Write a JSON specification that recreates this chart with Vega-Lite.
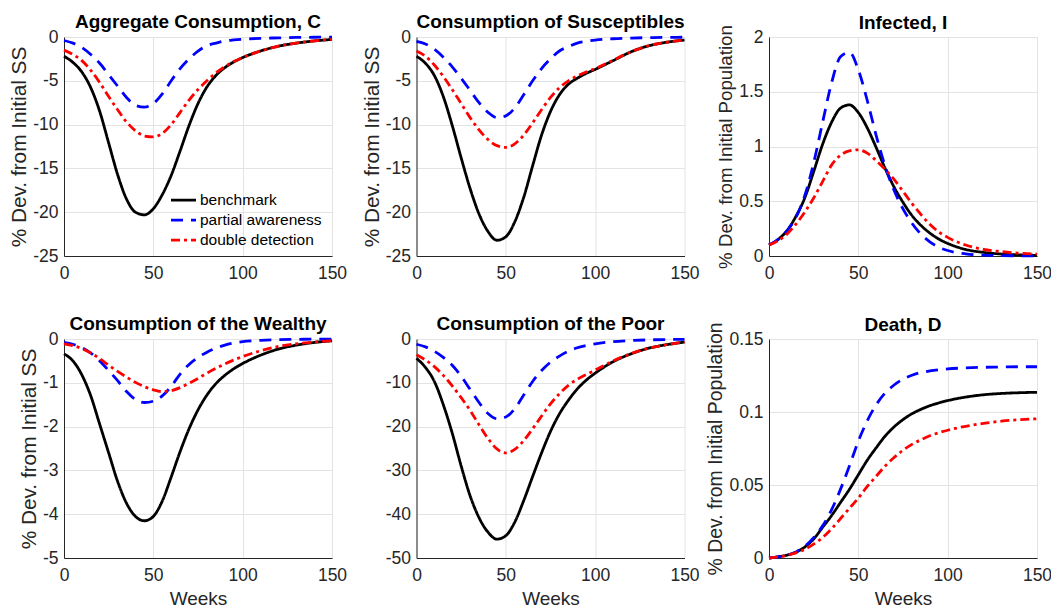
{
  "$schema": "https://vega.github.io/schema/vega-lite/v6.json",
  "padding": {"left": 8, "top": 13, "right": 0, "bottom": 0},
  "background": "white",
  "config": {
    "font": "Liberation Sans",
    "view": {"stroke": null},
    "axis": {
      "domainColor": "#262626", "domainWidth": 1,
      "labelColor": "#262626", "labelFontSize": 17.5, "labelFont": "Liberation Sans",
      "titleColor": "#262626", "titleFontWeight": "normal", "titleFont": "Liberation Sans",
      "gridColor": "#e3e3e3", "gridWidth": 1, "ticks": false
    },
    "axisX": {"labelPadding": 8, "titleFontSize": 19, "titlePadding": 6, "labelFlush": false},
    "axisY": {"labelPadding": 6, "titlePadding": 3, "titleFontSize": 20.8},
    "title": {"fontSize": 19, "fontWeight": "bold", "color": "#000000", "offset": -4, "font": "Liberation Sans"},
    "line": {"strokeWidth": 2.8, "interpolate": "monotone"}
  },
  "datasets": {
    "C": [
      {"w":0,"benchmark":-2.2,"partial awareness":-0.4,"double detection":-1.5},
      {"w":5,"benchmark":-2.9,"partial awareness":-0.7,"double detection":-2.0},
      {"w":10,"benchmark":-4.0,"partial awareness":-1.2,"double detection":-2.7},
      {"w":15,"benchmark":-5.8,"partial awareness":-2.0,"double detection":-3.8},
      {"w":20,"benchmark":-8.5,"partial awareness":-3.0,"double detection":-5.2},
      {"w":25,"benchmark":-12.1,"partial awareness":-4.3,"double detection":-6.8},
      {"w":30,"benchmark":-15.7,"partial awareness":-5.6,"double detection":-8.3},
      {"w":35,"benchmark":-18.5,"partial awareness":-6.9,"double detection":-9.7},
      {"w":40,"benchmark":-20.0,"partial awareness":-7.8,"double detection":-10.7},
      {"w":45,"benchmark":-20.3,"partial awareness":-8.0,"double detection":-11.3},
      {"w":50,"benchmark":-19.6,"partial awareness":-7.6,"double detection":-11.4},
      {"w":55,"benchmark":-18.0,"partial awareness":-6.5,"double detection":-11.0},
      {"w":60,"benchmark":-15.8,"partial awareness":-5.0,"double detection":-10.0},
      {"w":65,"benchmark":-13.0,"partial awareness":-3.6,"double detection":-8.6},
      {"w":70,"benchmark":-10.1,"partial awareness":-2.5,"double detection":-7.2},
      {"w":75,"benchmark":-7.6,"partial awareness":-1.6,"double detection":-6.0},
      {"w":80,"benchmark":-5.7,"partial awareness":-1.0,"double detection":-5.0},
      {"w":85,"benchmark":-4.4,"partial awareness":-0.7,"double detection":-4.1},
      {"w":90,"benchmark":-3.5,"partial awareness":-0.45,"double detection":-3.4},
      {"w":95,"benchmark":-2.85,"partial awareness":-0.33,"double detection":-2.8},
      {"w":100,"benchmark":-2.35,"partial awareness":-0.25,"double detection":-2.35},
      {"w":110,"benchmark":-1.6,"partial awareness":-0.15,"double detection":-1.6},
      {"w":120,"benchmark":-1.05,"partial awareness":-0.1,"double detection":-1.05},
      {"w":130,"benchmark":-0.7,"partial awareness":-0.05,"double detection":-0.7},
      {"w":140,"benchmark":-0.45,"partial awareness":-0.03,"double detection":-0.45},
      {"w":150,"benchmark":-0.28,"partial awareness":-0.02,"double detection":-0.28}
    ],
    "S": [
      {"w":0,"benchmark":-2.2,"partial awareness":-0.5,"double detection":-1.6},
      {"w":5,"benchmark":-3.0,"partial awareness":-0.8,"double detection":-2.2},
      {"w":10,"benchmark":-4.4,"partial awareness":-1.4,"double detection":-3.2},
      {"w":15,"benchmark":-6.8,"partial awareness":-2.3,"double detection":-4.5},
      {"w":20,"benchmark":-10.1,"partial awareness":-3.4,"double detection":-6.0},
      {"w":25,"benchmark":-13.8,"partial awareness":-4.7,"double detection":-7.6},
      {"w":30,"benchmark":-17.3,"partial awareness":-6.1,"double detection":-9.2},
      {"w":35,"benchmark":-20.2,"partial awareness":-7.5,"double detection":-10.6},
      {"w":40,"benchmark":-22.2,"partial awareness":-8.6,"double detection":-11.7},
      {"w":45,"benchmark":-23.2,"partial awareness":-9.2,"double detection":-12.4},
      {"w":50,"benchmark":-22.8,"partial awareness":-9.0,"double detection":-12.6},
      {"w":55,"benchmark":-21.1,"partial awareness":-8.1,"double detection":-12.2},
      {"w":60,"benchmark":-18.3,"partial awareness":-6.6,"double detection":-11.2},
      {"w":65,"benchmark":-14.7,"partial awareness":-5.0,"double detection":-9.8},
      {"w":70,"benchmark":-11.2,"partial awareness":-3.6,"double detection":-8.3},
      {"w":75,"benchmark":-8.5,"partial awareness":-2.5,"double detection":-6.9},
      {"w":80,"benchmark":-6.6,"partial awareness":-1.6,"double detection":-5.8},
      {"w":85,"benchmark":-5.4,"partial awareness":-1.1,"double detection":-5.0},
      {"w":90,"benchmark":-4.7,"partial awareness":-0.7,"double detection":-4.45},
      {"w":95,"benchmark":-4.15,"partial awareness":-0.5,"double detection":-4.0},
      {"w":100,"benchmark":-3.7,"partial awareness":-0.35,"double detection":-3.6},
      {"w":110,"benchmark":-2.7,"partial awareness":-0.2,"double detection":-2.65},
      {"w":120,"benchmark":-1.7,"partial awareness":-0.12,"double detection":-1.7},
      {"w":130,"benchmark":-1.0,"partial awareness":-0.07,"double detection":-1.0},
      {"w":140,"benchmark":-0.6,"partial awareness":-0.04,"double detection":-0.6},
      {"w":150,"benchmark":-0.35,"partial awareness":-0.03,"double detection":-0.35}
    ],
    "I": [
      {"w":0,"benchmark":0.10,"partial awareness":0.10,"double detection":0.10},
      {"w":5,"benchmark":0.15,"partial awareness":0.15,"double detection":0.14},
      {"w":10,"benchmark":0.23,"partial awareness":0.23,"double detection":0.20},
      {"w":15,"benchmark":0.36,"partial awareness":0.35,"double detection":0.29},
      {"w":20,"benchmark":0.53,"partial awareness":0.55,"double detection":0.40},
      {"w":25,"benchmark":0.77,"partial awareness":0.85,"double detection":0.53},
      {"w":30,"benchmark":1.02,"partial awareness":1.22,"double detection":0.68},
      {"w":35,"benchmark":1.22,"partial awareness":1.58,"double detection":0.83},
      {"w":40,"benchmark":1.35,"partial awareness":1.82,"double detection":0.92},
      {"w":45,"benchmark":1.38,"partial awareness":1.86,"double detection":0.96},
      {"w":50,"benchmark":1.31,"partial awareness":1.70,"double detection":0.97},
      {"w":55,"benchmark":1.17,"partial awareness":1.42,"double detection":0.94},
      {"w":60,"benchmark":0.99,"partial awareness":1.10,"double detection":0.87},
      {"w":65,"benchmark":0.80,"partial awareness":0.82,"double detection":0.79},
      {"w":70,"benchmark":0.63,"partial awareness":0.60,"double detection":0.70},
      {"w":75,"benchmark":0.49,"partial awareness":0.43,"double detection":0.59},
      {"w":80,"benchmark":0.37,"partial awareness":0.30,"double detection":0.48},
      {"w":85,"benchmark":0.28,"partial awareness":0.20,"double detection":0.38},
      {"w":90,"benchmark":0.21,"partial awareness":0.13,"double detection":0.29},
      {"w":95,"benchmark":0.155,"partial awareness":0.08,"double detection":0.22},
      {"w":100,"benchmark":0.115,"partial awareness":0.05,"double detection":0.17},
      {"w":110,"benchmark":0.06,"partial awareness":0.02,"double detection":0.10},
      {"w":120,"benchmark":0.033,"partial awareness":0.008,"double detection":0.06},
      {"w":130,"benchmark":0.018,"partial awareness":0.004,"double detection":0.04},
      {"w":140,"benchmark":0.01,"partial awareness":0.002,"double detection":0.025},
      {"w":150,"benchmark":0.006,"partial awareness":0.001,"double detection":0.018}
    ],
    "W": [
      {"w":0,"benchmark":-0.34,"partial awareness":-0.08,"double detection":-0.11},
      {"w":5,"benchmark":-0.5,"partial awareness":-0.12,"double detection":-0.15},
      {"w":10,"benchmark":-0.82,"partial awareness":-0.2,"double detection":-0.22},
      {"w":15,"benchmark":-1.3,"partial awareness":-0.32,"double detection":-0.32},
      {"w":20,"benchmark":-1.95,"partial awareness":-0.5,"double detection":-0.45},
      {"w":25,"benchmark":-2.6,"partial awareness":-0.72,"double detection":-0.6},
      {"w":30,"benchmark":-3.25,"partial awareness":-0.95,"double detection":-0.74},
      {"w":35,"benchmark":-3.75,"partial awareness":-1.2,"double detection":-0.87},
      {"w":40,"benchmark":-4.05,"partial awareness":-1.38,"double detection":-0.99},
      {"w":45,"benchmark":-4.15,"partial awareness":-1.45,"double detection":-1.09},
      {"w":50,"benchmark":-4.05,"partial awareness":-1.42,"double detection":-1.16},
      {"w":55,"benchmark":-3.7,"partial awareness":-1.3,"double detection":-1.2},
      {"w":60,"benchmark":-3.15,"partial awareness":-1.08,"double detection":-1.18},
      {"w":65,"benchmark":-2.57,"partial awareness":-0.8,"double detection":-1.11},
      {"w":70,"benchmark":-2.05,"partial awareness":-0.58,"double detection":-1.01},
      {"w":75,"benchmark":-1.62,"partial awareness":-0.42,"double detection":-0.9},
      {"w":80,"benchmark":-1.28,"partial awareness":-0.3,"double detection":-0.78},
      {"w":85,"benchmark":-1.02,"partial awareness":-0.21,"double detection":-0.67},
      {"w":90,"benchmark":-0.83,"partial awareness":-0.14,"double detection":-0.57},
      {"w":95,"benchmark":-0.68,"partial awareness":-0.09,"double detection":-0.48},
      {"w":100,"benchmark":-0.56,"partial awareness":-0.06,"double detection":-0.4},
      {"w":110,"benchmark":-0.37,"partial awareness":-0.03,"double detection":-0.27},
      {"w":120,"benchmark":-0.23,"partial awareness":-0.015,"double detection":-0.17},
      {"w":130,"benchmark":-0.14,"partial awareness":-0.008,"double detection":-0.11},
      {"w":140,"benchmark":-0.08,"partial awareness":-0.004,"double detection":-0.07},
      {"w":150,"benchmark":-0.04,"partial awareness":-0.002,"double detection":-0.04}
    ],
    "P": [
      {"w":0,"benchmark":-4.4,"partial awareness":-1.2,"double detection":-3.6},
      {"w":5,"benchmark":-6.5,"partial awareness":-1.8,"double detection":-4.8},
      {"w":10,"benchmark":-9.7,"partial awareness":-2.8,"double detection":-6.3},
      {"w":15,"benchmark":-15.0,"partial awareness":-4.2,"double detection":-8.3},
      {"w":20,"benchmark":-21.5,"partial awareness":-6.0,"double detection":-10.7},
      {"w":25,"benchmark":-29.0,"partial awareness":-8.5,"double detection":-13.4},
      {"w":30,"benchmark":-35.8,"partial awareness":-11.5,"double detection":-16.3},
      {"w":35,"benchmark":-40.8,"partial awareness":-14.5,"double detection":-19.6},
      {"w":40,"benchmark":-44.1,"partial awareness":-17.0,"double detection":-22.7},
      {"w":45,"benchmark":-45.7,"partial awareness":-18.2,"double detection":-25.1},
      {"w":50,"benchmark":-44.9,"partial awareness":-17.8,"double detection":-26.0},
      {"w":55,"benchmark":-41.8,"partial awareness":-15.9,"double detection":-25.2},
      {"w":60,"benchmark":-36.9,"partial awareness":-12.8,"double detection":-23.2},
      {"w":65,"benchmark":-31.4,"partial awareness":-9.7,"double detection":-20.5},
      {"w":70,"benchmark":-26.0,"partial awareness":-7.2,"double detection":-17.6},
      {"w":75,"benchmark":-21.1,"partial awareness":-5.3,"double detection":-14.8},
      {"w":80,"benchmark":-17.1,"partial awareness":-3.9,"double detection":-12.5},
      {"w":85,"benchmark":-14.0,"partial awareness":-2.8,"double detection":-10.6},
      {"w":90,"benchmark":-11.4,"partial awareness":-2.0,"double detection":-9.2},
      {"w":95,"benchmark":-9.4,"partial awareness":-1.5,"double detection":-8.1},
      {"w":100,"benchmark":-7.8,"partial awareness":-1.1,"double detection":-7.1},
      {"w":110,"benchmark":-5.2,"partial awareness":-0.6,"double detection":-5.0},
      {"w":120,"benchmark":-3.4,"partial awareness":-0.35,"double detection":-3.35},
      {"w":130,"benchmark":-2.1,"partial awareness":-0.2,"double detection":-2.1},
      {"w":140,"benchmark":-1.3,"partial awareness":-0.12,"double detection":-1.3},
      {"w":150,"benchmark":-0.7,"partial awareness":-0.08,"double detection":-0.7}
    ],
    "D": [
      {"w":0,"benchmark":0,"partial awareness":0,"double detection":0},
      {"w":5,"benchmark":0.0008,"partial awareness":0.0008,"double detection":0.0007},
      {"w":10,"benchmark":0.002,"partial awareness":0.002,"double detection":0.0018},
      {"w":15,"benchmark":0.004,"partial awareness":0.004,"double detection":0.0035},
      {"w":20,"benchmark":0.0075,"partial awareness":0.008,"double detection":0.006},
      {"w":25,"benchmark":0.013,"partial awareness":0.014,"double detection":0.0095},
      {"w":30,"benchmark":0.021,"partial awareness":0.022,"double detection":0.014},
      {"w":35,"benchmark":0.029,"partial awareness":0.033,"double detection":0.02},
      {"w":40,"benchmark":0.038,"partial awareness":0.047,"double detection":0.027},
      {"w":45,"benchmark":0.047,"partial awareness":0.063,"double detection":0.034},
      {"w":50,"benchmark":0.057,"partial awareness":0.08,"double detection":0.041},
      {"w":55,"benchmark":0.067,"partial awareness":0.094,"double detection":0.049},
      {"w":60,"benchmark":0.0755,"partial awareness":0.105,"double detection":0.056},
      {"w":65,"benchmark":0.0835,"partial awareness":0.113,"double detection":0.063},
      {"w":70,"benchmark":0.0898,"partial awareness":0.1185,"double detection":0.0688},
      {"w":75,"benchmark":0.0948,"partial awareness":0.1225,"double detection":0.0738},
      {"w":80,"benchmark":0.0988,"partial awareness":0.1252,"double detection":0.0778},
      {"w":85,"benchmark":0.1018,"partial awareness":0.127,"double detection":0.081},
      {"w":90,"benchmark":0.1043,"partial awareness":0.1281,"double detection":0.0837},
      {"w":95,"benchmark":0.1062,"partial awareness":0.1289,"double detection":0.0858},
      {"w":100,"benchmark":0.1078,"partial awareness":0.1295,"double detection":0.0875},
      {"w":110,"benchmark":0.1102,"partial awareness":0.1302,"double detection":0.0902},
      {"w":120,"benchmark":0.1118,"partial awareness":0.1306,"double detection":0.0922},
      {"w":130,"benchmark":0.1127,"partial awareness":0.1308,"double detection":0.0937},
      {"w":140,"benchmark":0.1132,"partial awareness":0.131,"double detection":0.0947},
      {"w":150,"benchmark":0.1135,"partial awareness":0.131,"double detection":0.0953}
    ]
  },
  "columns": 3,
  "spacing": {"row": 83, "column": 84.5},
  "bounds": "flush",
  "resolve": {"scale": {"x": "independent", "y": "independent", "color": "independent", "strokeDash": "independent"}},
  "concat": [
    {
      "data": {"name": "C"},
      "title": "Aggregate Consumption, C",
      "width": 268, "height": 219,
      "transform": [{"fold": ["benchmark", "partial awareness", "double detection"], "as": ["series", "v"]}],
      "mark": {"type": "line"},
      "encoding": {
        "x": {"field": "w", "type": "quantitative", "scale": {"domain": [0, 150], "nice": false}, "axis": {"values": [0, 50, 100, 150], "title": null}},
        "y": {"field": "v", "type": "quantitative", "scale": {"domain": [-25, 0], "nice": false}, "axis": {"values": [-25, -20, -15, -10, -5, 0], "title": "% Dev. from Initial SS", "labelExpr": "datum.value + ''"}},
        "color": {"field": "series", "type": "nominal", "scale": {"domain": ["benchmark", "partial awareness", "double detection"], "range": ["#000000", "#0000ff", "#ff0000"]},
          "legend": {"orient": "none", "legendX": 108, "legendY": 151.6, "title": null, "labelFontSize": 15.5, "labelColor": "#000000", "labelFont": "Liberation Sans", "symbolType": "M-1.25,0L1.25,0", "symbolSize": 400, "symbolStrokeWidth": 2.8, "rowPadding": 0, "labelOffset": 5, "padding": 0}},
        "strokeDash": {"field": "series", "type": "nominal", "scale": {"domain": ["benchmark", "partial awareness", "double detection"], "range": [[1, 0], [12, 8], [9, 4, 3, 4]]},
          "legend": {"orient": "none", "legendX": 108, "legendY": 151.6, "title": null, "labelFontSize": 15.5, "labelColor": "#000000", "labelFont": "Liberation Sans", "symbolType": "M-1.25,0L1.25,0", "symbolSize": 400, "symbolStrokeWidth": 2.8, "rowPadding": 0, "labelOffset": 5, "padding": 0}}
      }
    },
    {
      "data": {"name": "S"},
      "title": "Consumption of Susceptibles",
      "width": 268, "height": 219,
      "transform": [{"fold": ["benchmark", "partial awareness", "double detection"], "as": ["series", "v"]}],
      "mark": {"type": "line"},
      "encoding": {
        "x": {"field": "w", "type": "quantitative", "scale": {"domain": [0, 150], "nice": false}, "axis": {"values": [0, 50, 100, 150], "title": null}},
        "y": {"field": "v", "type": "quantitative", "scale": {"domain": [-25, 0], "nice": false}, "axis": {"values": [-25, -20, -15, -10, -5, 0], "title": "% Dev. from Initial SS", "labelExpr": "datum.value + ''"}},
        "color": {"field": "series", "type": "nominal", "scale": {"domain": ["benchmark", "partial awareness", "double detection"], "range": ["#000000", "#0000ff", "#ff0000"]}, "legend": null},
        "strokeDash": {"field": "series", "type": "nominal", "scale": {"domain": ["benchmark", "partial awareness", "double detection"], "range": [[1, 0], [12, 8], [9, 4, 3, 4]]}, "legend": null}
      }
    },
    {
      "data": {"name": "I"},
      "title": {"text": "Infected, I", "offset": -8},
      "width": 268, "height": 219,
      "transform": [{"fold": ["benchmark", "partial awareness", "double detection"], "as": ["series", "v"]}],
      "mark": {"type": "line"},
      "encoding": {
        "x": {"field": "w", "type": "quantitative", "scale": {"domain": [0, 150], "nice": false}, "axis": {"values": [0, 50, 100, 150], "title": null}},
        "y": {"field": "v", "type": "quantitative", "scale": {"domain": [0, 2], "nice": false}, "axis": {"values": [0, 0.5, 1, 1.5, 2], "title": "% Dev. from Initial Population", "titleFontSize": 18.7, "labelExpr": "datum.value + ''"}},
        "color": {"field": "series", "type": "nominal", "scale": {"domain": ["benchmark", "partial awareness", "double detection"], "range": ["#000000", "#0000ff", "#ff0000"]}, "legend": null},
        "strokeDash": {"field": "series", "type": "nominal", "scale": {"domain": ["benchmark", "partial awareness", "double detection"], "range": [[1, 0], [12, 8], [9, 4, 3, 4]]}, "legend": null}
      }
    },
    {
      "data": {"name": "W"},
      "title": "Consumption of the Wealthy",
      "width": 268, "height": 219,
      "transform": [{"fold": ["benchmark", "partial awareness", "double detection"], "as": ["series", "v"]}],
      "mark": {"type": "line"},
      "encoding": {
        "x": {"field": "w", "type": "quantitative", "scale": {"domain": [0, 150], "nice": false}, "axis": {"values": [0, 50, 100, 150], "title": "Weeks"}},
        "y": {"field": "v", "type": "quantitative", "scale": {"domain": [-5, 0], "nice": false}, "axis": {"values": [-5, -4, -3, -2, -1, 0], "title": "% Dev. from Initial SS", "labelExpr": "datum.value + ''"}},
        "color": {"field": "series", "type": "nominal", "scale": {"domain": ["benchmark", "partial awareness", "double detection"], "range": ["#000000", "#0000ff", "#ff0000"]}, "legend": null},
        "strokeDash": {"field": "series", "type": "nominal", "scale": {"domain": ["benchmark", "partial awareness", "double detection"], "range": [[1, 0], [12, 8], [9, 4, 3, 4]]}, "legend": null}
      }
    },
    {
      "data": {"name": "P"},
      "title": "Consumption of the Poor",
      "width": 268, "height": 219,
      "transform": [{"fold": ["benchmark", "partial awareness", "double detection"], "as": ["series", "v"]}],
      "mark": {"type": "line"},
      "encoding": {
        "x": {"field": "w", "type": "quantitative", "scale": {"domain": [0, 150], "nice": false}, "axis": {"values": [0, 50, 100, 150], "title": "Weeks"}},
        "y": {"field": "v", "type": "quantitative", "scale": {"domain": [-50, 0], "nice": false}, "axis": {"values": [-50, -40, -30, -20, -10, 0], "title": null, "labelExpr": "datum.value + ''"}},
        "color": {"field": "series", "type": "nominal", "scale": {"domain": ["benchmark", "partial awareness", "double detection"], "range": ["#000000", "#0000ff", "#ff0000"]}, "legend": null},
        "strokeDash": {"field": "series", "type": "nominal", "scale": {"domain": ["benchmark", "partial awareness", "double detection"], "range": [[1, 0], [12, 8], [9, 4, 3, 4]]}, "legend": null}
      }
    },
    {
      "data": {"name": "D"},
      "title": {"text": "Death, D", "offset": -12.7},
      "width": 268, "height": 219,
      "transform": [{"fold": ["benchmark", "partial awareness", "double detection"], "as": ["series", "v"]}],
      "mark": {"type": "line"},
      "encoding": {
        "x": {"field": "w", "type": "quantitative", "scale": {"domain": [0, 150], "nice": false}, "axis": {"values": [0, 50, 100, 150], "title": "Weeks"}},
        "y": {"field": "v", "type": "quantitative", "scale": {"domain": [0, 0.15], "nice": false}, "axis": {"values": [0, 0.05, 0.1, 0.15], "title": "% Dev. from Initial Population", "titleFontSize": 19.4, "labelExpr": "datum.value + ''"}},
        "color": {"field": "series", "type": "nominal", "scale": {"domain": ["benchmark", "partial awareness", "double detection"], "range": ["#000000", "#0000ff", "#ff0000"]}, "legend": null},
        "strokeDash": {"field": "series", "type": "nominal", "scale": {"domain": ["benchmark", "partial awareness", "double detection"], "range": [[1, 0], [12, 8], [9, 4, 3, 4]]}, "legend": null}
      }
    }
  ]
}
